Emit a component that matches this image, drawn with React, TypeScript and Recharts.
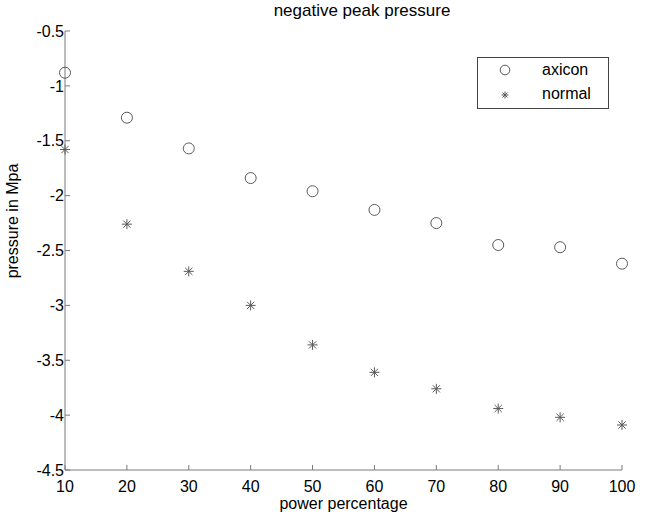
import React from "react";
import { ScatterChart, Scatter, XAxis, YAxis } from "recharts";

const power = [10, 20, 30, 40, 50, 60, 70, 80, 90, 100];
const axicon = [-0.88, -1.29, -1.57, -1.84, -1.96, -2.13, -2.25, -2.45, -2.47, -2.62];
const normal = [-1.58, -2.26, -2.69, -3.0, -3.36, -3.61, -3.76, -3.94, -4.02, -4.09];
const xTicks = [10, 20, 30, 40, 50, 60, 70, 80, 90, 100];
const yTicks = [-4.5, -4, -3.5, -3, -2.5, -2, -1.5, -1, -0.5];

const axiconData = power.map((x, i) => ({ x, y: axicon[i] }));
const normalData = power.map((x, i) => ({ x, y: normal[i] }));

const FONT = "'Liberation Sans', Arial, sans-serif";
const AXIS = "#7a7a7a";
const MARK = "#5a5a5a";

const Circle = (props: any) => {
  const { cx, cy } = props;
  return <circle cx={cx} cy={cy} r={5.5} fill="none" stroke={MARK} strokeWidth={1} />;
};

const Star = (props: any) => {
  const { cx, cy } = props;
  const s = 5;
  const d = 3.6;
  return (
    <g stroke={MARK} strokeWidth={1}>
      <line x1={cx - s} y1={cy} x2={cx + s} y2={cy} />
      <line x1={cx} y1={cy - s} x2={cx} y2={cy + s} />
      <line x1={cx - d} y1={cy - d} x2={cx + d} y2={cy + d} />
      <line x1={cx - d} y1={cy + d} x2={cx + d} y2={cy - d} />
    </g>
  );
};

// custom ticks / font props make the axis lines vanish here,
// so tick labels are styled with plain css instead
const css = `
.recharts-cartesian-axis-tick-value {
  fill: #000;
  font-size: 16px;
  font-family: ${FONT};
}
`;

const blank = () => "";

export default function App() {
  return (
    <div
      style={{
        position: "absolute",
        left: 0,
        top: 0,
        width: 647,
        height: 522,
        fontFamily: FONT,
        fontSize: 16,
      }}
    >
      <style>{css}</style>
      <ScatterChart
        width={647}
        height={522}
        margin={{ top: 31, right: 25, left: 0, bottom: 0 }}
      >
        <XAxis
          type="number"
          dataKey="x"
          domain={[10, 100]}
          ticks={xTicks}
          height={52}
          stroke={AXIS}
          tickSize={-5}
          tickMargin={16}
        />
        <XAxis
          xAxisId="top"
          orientation="top"
          type="number"
          dataKey="x"
          domain={[10, 100]}
          ticks={xTicks}
          height={0}
          stroke={AXIS}
          tickSize={-5}
          tickFormatter={blank}
        />
        <YAxis
          type="number"
          dataKey="y"
          domain={[-4.5, -0.5]}
          ticks={yTicks}
          width={65}
          stroke={AXIS}
          tickSize={-5}
          tickMargin={6}
        />
        <YAxis
          yAxisId="right"
          orientation="right"
          type="number"
          dataKey="y"
          domain={[-4.5, -0.5]}
          ticks={yTicks}
          width={0}
          stroke={AXIS}
          tickSize={-5}
          tickFormatter={blank}
        />
        <Scatter name="axicon" data={axiconData} shape={Circle} isAnimationActive={false} />
        <Scatter
          name="normal"
          data={normalData}
          xAxisId="top"
          yAxisId="right"
          shape={Star}
          isAnimationActive={false}
        />
      </ScatterChart>

      <div
        style={{
          position: "absolute",
          left: 0,
          width: 724,
          top: 1,
          textAlign: "center",
          fontSize: 17,
          color: "#000",
        }}
      >
        negative peak pressure
      </div>
      <div
        style={{
          position: "absolute",
          left: 65,
          width: 557,
          top: 495,
          textAlign: "center",
          fontSize: 16,
          color: "#000",
        }}
      >
        power percentage
      </div>
      <div
        style={{
          position: "absolute",
          left: 13,
          top: 221,
          fontSize: 16,
          color: "#000",
          whiteSpace: "nowrap",
          transform: "translate(-50%, -50%) rotate(-90deg)",
        }}
      >
        pressure in Mpa
      </div>

      <div
        style={{
          position: "absolute",
          left: 477,
          top: 57,
          width: 130,
          height: 50,
          border: "1px solid #444",
          background: "#fff",
          fontSize: 16,
          color: "#000",
        }}
      >
        {["axicon", "normal"].map((name, i) => (
          <div
            key={name}
            style={{ position: "absolute", left: 0, top: 3 + i * 24, height: 20, width: 130 }}
          >
            <svg width={40} height={20} style={{ position: "absolute", left: 16, top: 0 }}>
              {name === "axicon" ? (
                <circle cx={11} cy={9} r={4.8} fill="none" stroke={MARK} />
              ) : (
                <g stroke={MARK} strokeWidth={1}>
                  <line x1={7.5} y1={10} x2={14.5} y2={10} />
                  <line x1={11} y1={6.5} x2={11} y2={13.5} />
                  <line x1={8.5} y1={7.5} x2={13.5} y2={12.5} />
                  <line x1={8.5} y1={12.5} x2={13.5} y2={7.5} />
                </g>
              )}
            </svg>
            <span style={{ position: "absolute", left: 64, top: 0 }}>{name}</span>
          </div>
        ))}
      </div>
    </div>
  );
}
